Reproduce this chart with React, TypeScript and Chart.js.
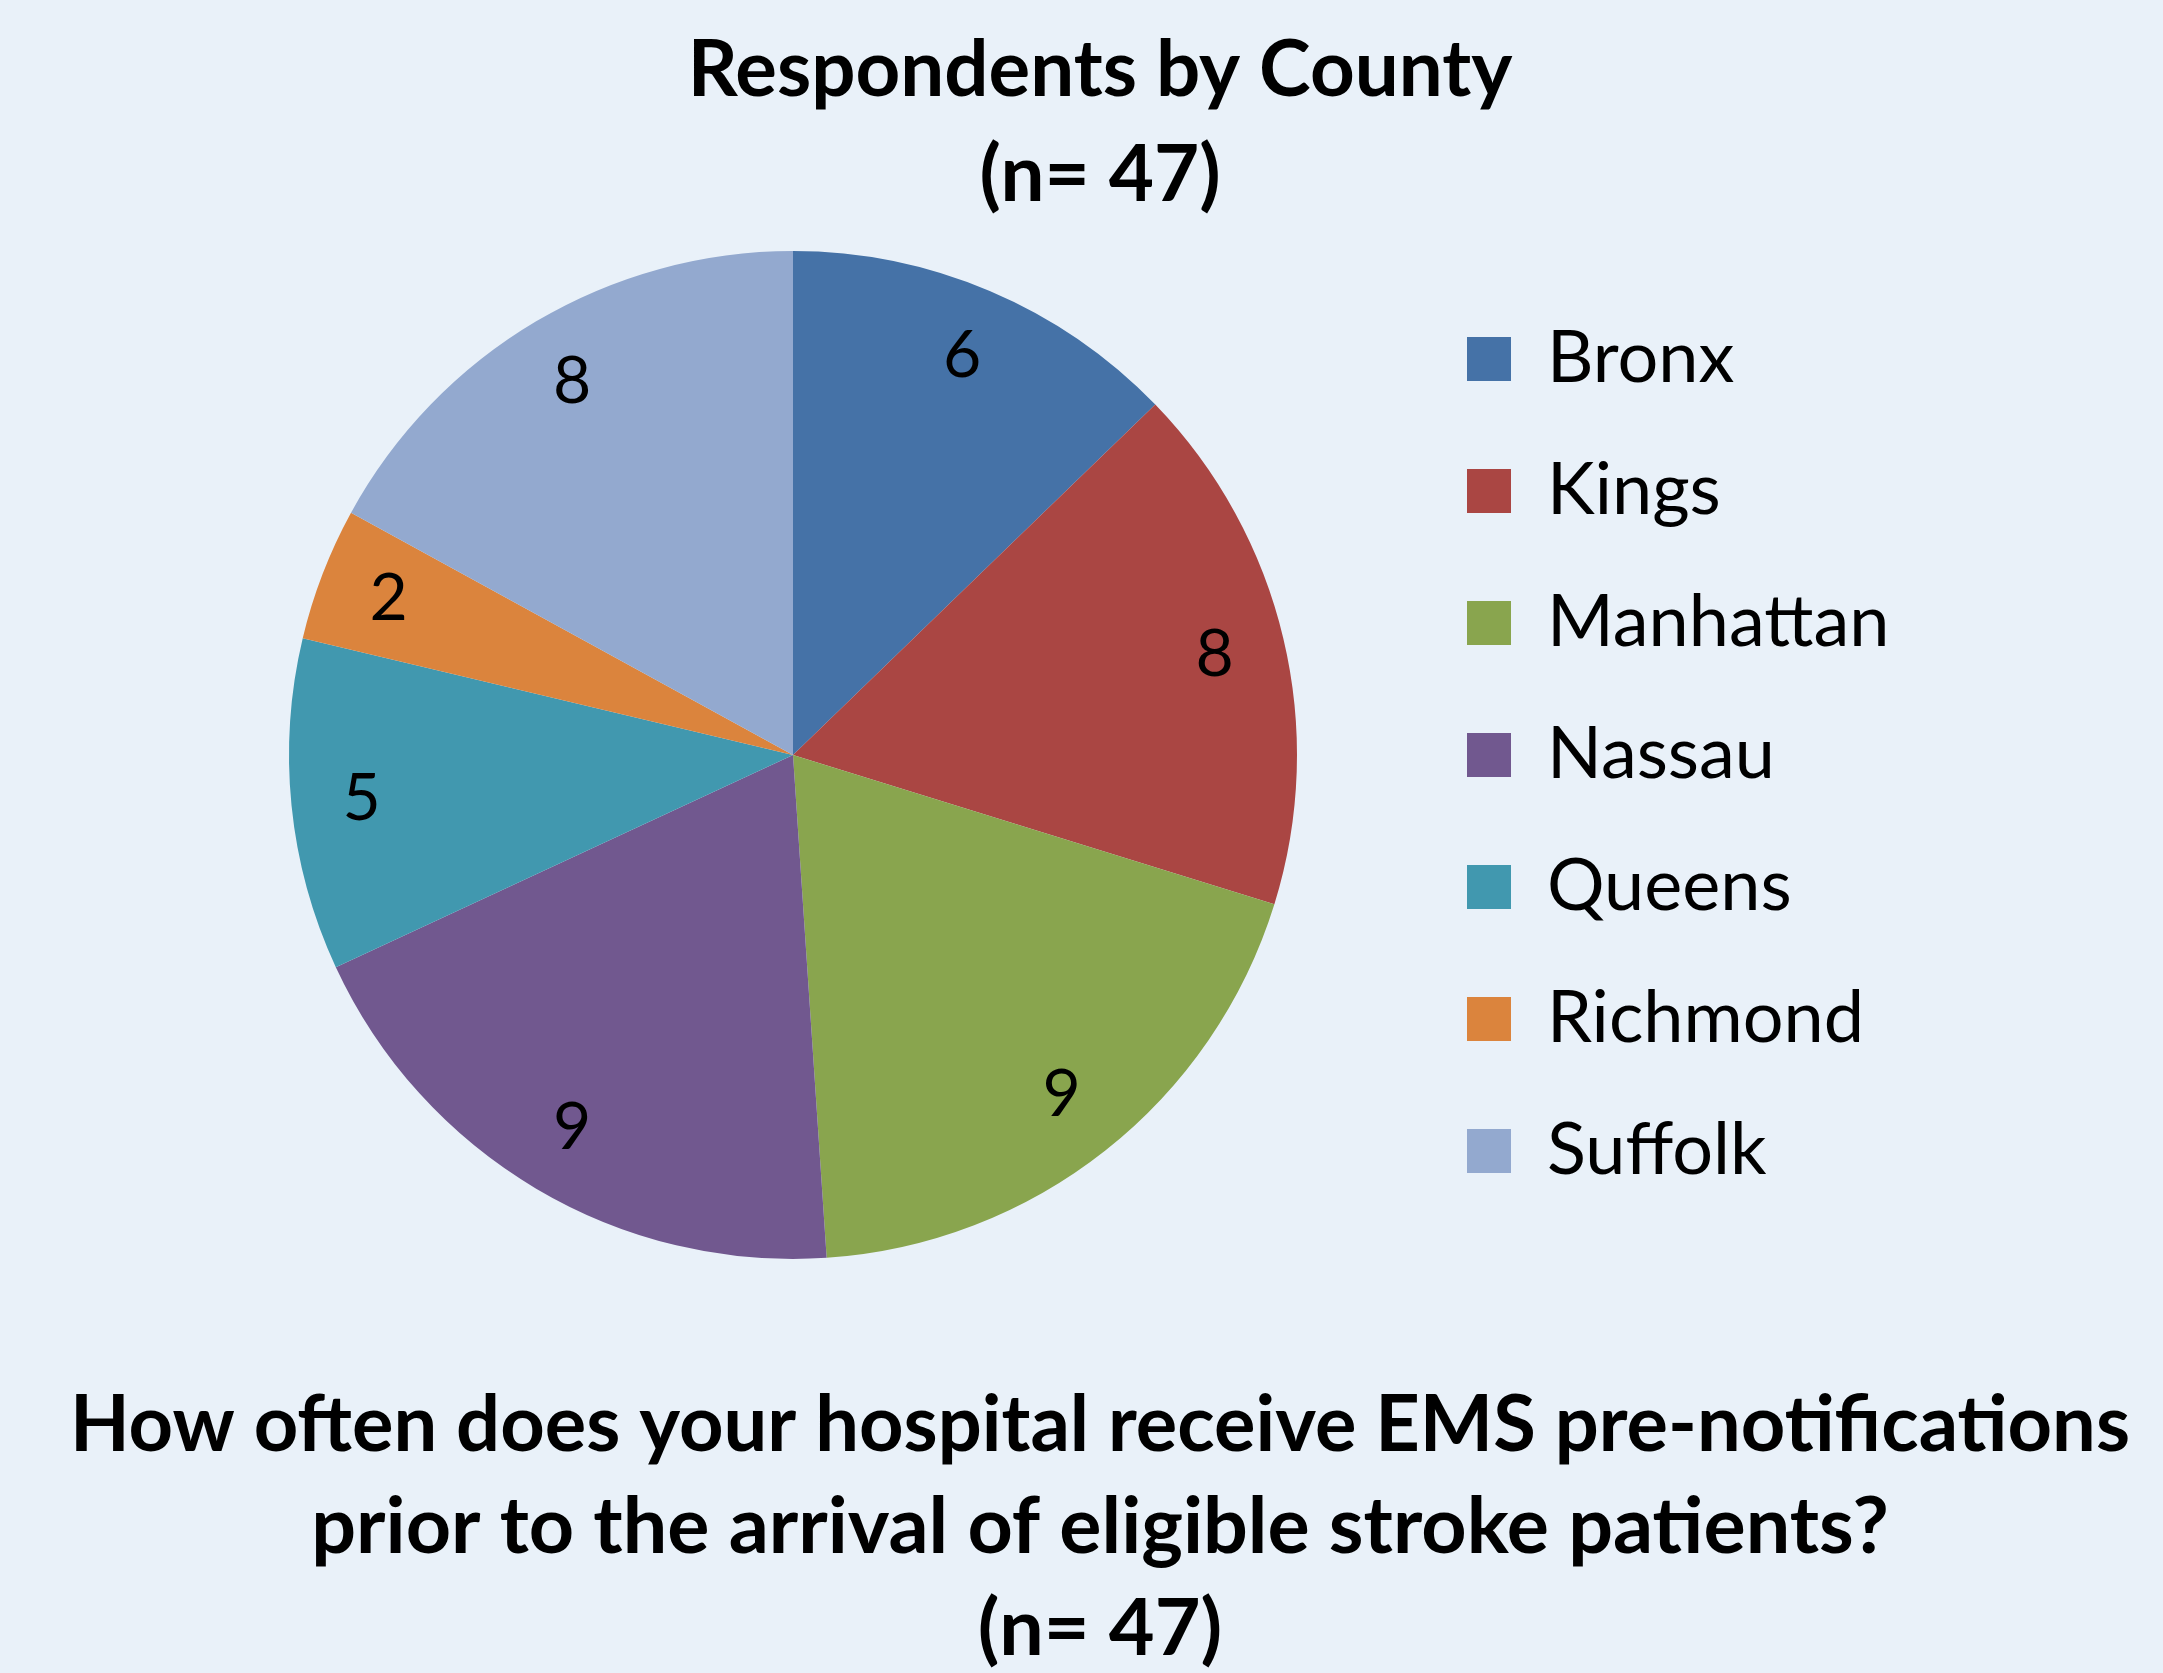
import React, { useEffect, useRef } from "react";
import { Chart, registerables } from "chart.js";

Chart.register(...registerables);

const categories = ["Bronx", "Kings", "Manhattan", "Nassau", "Queens", "Richmond", "Suffolk"];
const counts = [6, 8, 9, 9, 5, 2, 8];
const sliceColors = ["#4572a7", "#aa4643", "#89a54e", "#71588f", "#4198af", "#db843d", "#93a9cf"];
const titleLines = ["Respondents by County", "(n= 47)"];
const questionLines = [
  "How often does your hospital receive EMS pre-notifications",
  "prior to the arrival of eligible stroke patients?",
  "(n= 47)",
];

const W = 2163;
const H = 1673;
const LEGEND_W = 614;
const TEXT_BAND = [70, 2130];
const FONT = "Lato, 'Open Sans', 'DejaVu Sans', sans-serif";

const legendWidthPlugin = {
  id: "legendWidth",
  beforeLayout(chart: any) {
    const lg = chart.legend;
    if (lg && !lg.__patched) {
      const orig = lg.fit.bind(lg);
      lg.fit = () => {
        orig();
        lg.width = LEGEND_W;
      };
      lg.__patched = true;
    }
  },
  afterLayout(chart: any) {
    chart.boxes.forEach((b: any) => {
      if (b !== chart.legend && b.options && b.options.text !== undefined && b.isHorizontal && b.isHorizontal()) {
        b.left = TEXT_BAND[0];
        b.right = TEXT_BAND[1];
        b.width = TEXT_BAND[1] - TEXT_BAND[0];
      }
    });
  },
};

const valueLabelPlugin = {
  id: "valueLabels",
  afterDatasetsDraw(chart: any) {
    const ctx = chart.ctx;
    const meta = chart.getDatasetMeta(0);
    const data = chart.data.datasets[0].data;
    ctx.save();
    ctx.font = `400 66px ${FONT}`;
    ctx.fillStyle = "#000000";
    ctx.textAlign = "center";
    ctx.textBaseline = "middle";
    meta.data.forEach((arc: any, i: number) => {
      const { x, y, startAngle, endAngle, outerRadius } = arc.getProps(
        ["x", "y", "startAngle", "endAngle", "outerRadius"],
        true
      );
      const mid = (startAngle + endAngle) / 2;
      const r = outerRadius * 0.86;
      ctx.fillText(String(data[i]), x + Math.cos(mid) * r, y + Math.sin(mid) * r);
    });
    ctx.restore();
  },
};

export default function App() {
  const canvasRef = useRef<HTMLCanvasElement | null>(null);

  useEffect(() => {
    document.body.style.margin = "0";
    document.body.style.background = "#e9f1f9";
    const canvas = canvasRef.current;
    if (!canvas) return;
    const chart = new Chart(canvas, {
      type: "pie",
      data: {
        labels: categories,
        datasets: [
          {
            data: counts,
            backgroundColor: sliceColors,
            borderWidth: 0,
          },
        ],
      },
      plugins: [legendWidthPlugin, valueLabelPlugin],
      options: {
        animation: false,
        responsive: false,
        maintainAspectRatio: false,
        layout: { padding: { left: 179, right: 142, top: 0, bottom: 0 } },
        plugins: {
          tooltip: { enabled: false },
          title: {
            display: true,
            text: titleLines,
            color: "#000000",
            font: { family: FONT, size: 78, weight: "bold", lineHeight: 105 / 78 },
            padding: { top: 18, bottom: 23 },
          },
          subtitle: {
            display: true,
            position: "bottom",
            text: questionLines,
            color: "#000000",
            font: { family: FONT, size: 79, weight: "bold", lineHeight: 102 / 79 },
            padding: { top: 116, bottom: -8 },
          },
          legend: {
            display: true,
            position: "right",
            fullSize: false,
            align: "center",
            labels: {
              color: "#000000",
              font: { family: FONT, size: 72 },
              boxWidth: 44,
              boxHeight: 44,
              padding: 60,
            },
          },
        },
      },
    });
    return () => chart.destroy();
  }, []);

  return (
    <div style={{ width: W, height: H, background: "#e9f1f9", position: "relative" }}>
      <canvas ref={canvasRef} width={W} height={H} style={{ display: "block", width: W, height: H }} />
    </div>
  );
}
